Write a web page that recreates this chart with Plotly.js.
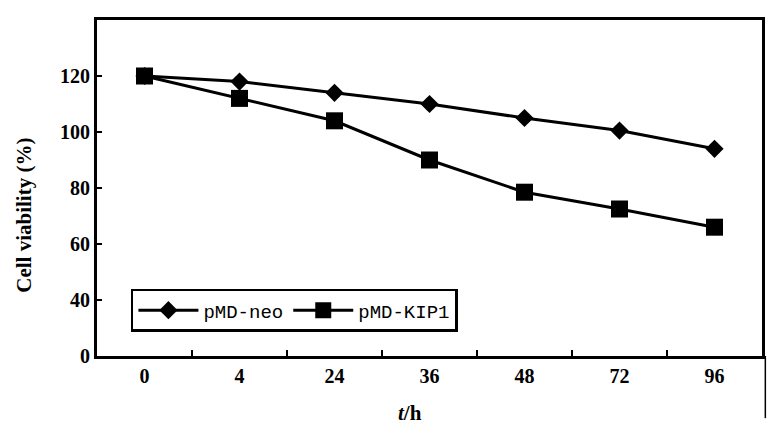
<!DOCTYPE html>
<html>
<head>
<meta charset="utf-8">
<script src="https://cdn.plot.ly/plotly-3.0.1.min.js"></script>
<style>html,body{margin:0;padding:0;background:#fff;}#chart{width:784px;height:432px;}</style>
</head>
<body>
<div id="chart"></div>
<script>
// Time points (categorical x axis)
const timeLabels = ['0', '4', '24', '36', '48', '72', '96'];
// Cell viability (%)
const neoValues = [120, 118, 114, 110, 105, 100.5, 94];
const kipValues = [120, 112, 104, 90, 78.5, 72.5, 66];
// Y axis: broken axis, bottom tick labelled 0 sits where 20 would be
const yTickVals = [20, 40, 60, 80, 100, 120];
const yTickText = ['0', '40', '60', '80', '100', '120'];

const serif = 'Liberation Serif, Times New Roman, serif';

const traces = [
  {
    x: timeLabels, y: neoValues, name: 'pMD-neo', type: 'scatter', mode: 'lines+markers',
    line: {color: '#000', width: 3},
    marker: {symbol: 'diamond', size: 14, color: '#000'}
  },
  {
    x: timeLabels, y: kipValues, name: 'pMD-KIP1', type: 'scatter', mode: 'lines+markers',
    line: {color: '#000', width: 3},
    marker: {symbol: 'square', size: 17, color: '#000'}
  }
];

const layout = {
  width: 784, height: 432,
  margin: {l: 97, r: 22, t: 20, b: 76},
  paper_bgcolor: '#fff', plot_bgcolor: '#fff',
  showlegend: true,
  legend: {
    x: 0.051, y: 0.2, xanchor: 'left', yanchor: 'top',
    orientation: 'h',
    bordercolor: '#000', borderwidth: 2.5, bgcolor: '#fff',
    font: {family: 'Liberation Mono, monospace', size: 19, color: '#000'},
    itemwidth: 60
  },
  xaxis: {
    type: 'category',
    range: [-0.5, 6.5],
    showline: true, linecolor: '#000', linewidth: 3, mirror: true,
    showgrid: false, zeroline: false,
    ticks: 'inside', tickson: 'boundaries', ticklen: 6, tickwidth: 2, tickcolor: '#000',
    tickfont: {family: serif, size: 20, color: '#000', weight: 'bold'},
    fixedrange: true
  },
  yaxis: {
    range: [20, 140],
    tickvals: yTickVals, ticktext: yTickText,
    showline: true, linecolor: '#000', linewidth: 3, mirror: true,
    showgrid: false, zeroline: false,
    ticks: 'inside', ticklen: 5, tickwidth: 2, tickcolor: '#000',
    tickfont: {family: serif, size: 20, color: '#000', weight: 'bold'},
    fixedrange: true
  },
  annotations: [
    {
      text: 'Cell viability (%)', textangle: -90,
      xref: 'paper', yref: 'paper', x: -0.11, y: 0.42,
      xanchor: 'center', yanchor: 'middle', showarrow: false,
      font: {family: serif, size: 21, color: '#000', weight: 'bold'}
    },
    {
      text: '<i>t</i>/h',
      xref: 'paper', yref: 'paper', x: 0.47, y: -0.17,
      xanchor: 'center', yanchor: 'middle', showarrow: false,
      font: {family: serif, size: 21, color: '#000', weight: 'bold'}
    }
  ],
  shapes: [
    {type: 'line', xref: 'paper', yref: 'paper', x0: 1.005, x1: 1.005, y0: 0, y1: -0.185,
     line: {color: '#000', width: 1.5}}
  ]
};

Plotly.newPlot('chart', traces, layout, {displayModeBar: false, staticPlot: true});
</script>
</body>
</html>
